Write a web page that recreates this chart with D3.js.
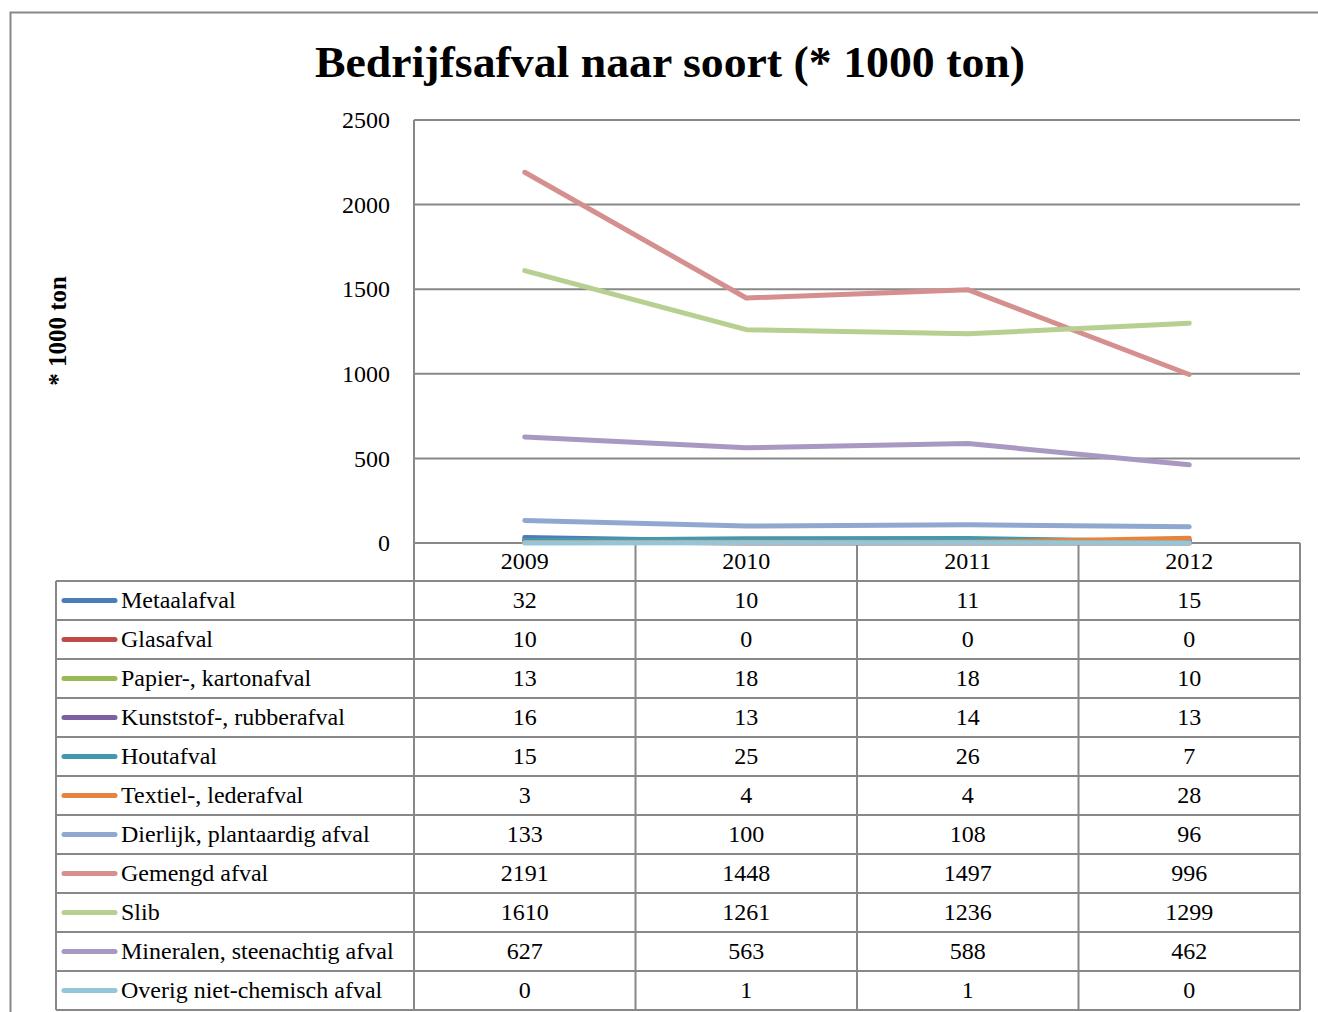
<!DOCTYPE html>
<meta charset="utf-8">
<html>
<head>
<style>
  body { margin: 0; background: #fff; }
  svg text { font-family: "Liberation Serif", "DejaVu Serif", serif; fill: #000; }
</style>
</head>
<body>
<svg width="1318" height="1012" id="chart"></svg>
<script src="https://d3js.org/d3.v7.min.js"></script>
<script>
var years = ["2009", "2010", "2011", "2012"];
var seriesNames = [
  "Metaalafval", "Glasafval", "Papier-, kartonafval", "Kunststof-, rubberafval",
  "Houtafval", "Textiel-, lederafval", "Dierlijk, plantaardig afval", "Gemengd afval",
  "Slib", "Mineralen, steenachtig afval", "Overig niet-chemisch afval"
];
var metaal = [32, 10, 11, 15];
var glas = [10, 0, 0, 0];
var papier = [13, 18, 18, 10];
var kunststof = [16, 13, 14, 13];
var hout = [15, 25, 26, 7];
var textiel = [3, 4, 4, 28];
var dierlijk = [133, 100, 108, 96];
var gemengd = [2191, 1448, 1497, 996];
var slib = [1610, 1261, 1236, 1299];
var mineralen = [627, 563, 588, 462];
var overig = [0, 1, 1, 0];
var yTicks = [0, 500, 1000, 1500, 2000, 2500];

var colors = ["#4a7ebb", "#be4b48", "#98b954", "#7d60a0", "#4198af", "#e6843e",
              "#8fa8d0", "#d48f8e", "#b7cf90", "#a898c2", "#93c6d9"];
var series = [metaal, glas, papier, kunststof, hout, textiel, dierlijk, gemengd, slib, mineralen, overig]
  .map(function (v, i) { return { name: seriesNames[i], values: v, color: colors[i] }; });

var svg = d3.select("#chart");
var gridColor = "#888";

// outer chart border
svg.append("rect")
  .attr("x", 10.5).attr("y", 12.5)
  .attr("width", 1400).attr("height", 1100)
  .attr("fill", "none").attr("stroke", gridColor).attr("stroke-width", 2);

// title
svg.append("text")
  .attr("x", 670).attr("y", 77)
  .attr("text-anchor", "middle")
  .attr("textLength", 710).attr("lengthAdjust", "spacingAndGlyphs")
  .style("font-size", "45px").style("font-weight", "bold")
  .text("Bedrijfsafval naar soort (* 1000 ton)");

// y axis label
svg.append("text")
  .attr("transform", "translate(66,331) rotate(-90)")
  .attr("text-anchor", "middle")
  .style("font-size", "25px").style("font-weight", "bold")
  .text("* 1000 ton");

var plotLeft = 414, plotRight = 1300, plotTop = 120, plotBottom = 543;
var x = d3.scaleBand().domain(years).range([plotLeft, plotRight]);
var y = d3.scaleLinear().domain([0, 2500]).range([plotBottom, plotTop]);

// gridlines
svg.append("g").selectAll("line")
  .data(yTicks.filter(function (d) { return d > 0; }))
  .enter().append("line")
  .attr("x1", plotLeft).attr("x2", plotRight)
  .attr("y1", function (d) { return y(d); }).attr("y2", function (d) { return y(d); })
  .attr("stroke", gridColor).attr("stroke-width", 2);

// y axis
var yAxis = svg.append("g")
  .attr("transform", "translate(" + plotLeft + ",0)")
  .call(d3.axisLeft(y).tickValues(yTicks).tickFormat(d3.format("d")).tickSize(0).tickPadding(24));
yAxis.select(".domain").remove();
yAxis.selectAll("text").style("font-size", "24px")
  .style("font-family", "'Liberation Serif', serif");

// data table
var rowH = 39;
var tableTop = plotBottom, headerH = 38;
var legendLeft = 56;
var tableBottom = tableTop + headerH + rowH * series.length;
var tg = svg.append("g");

// horizontal table lines
tg.append("line").attr("x1", plotLeft).attr("x2", plotRight)
  .attr("y1", tableTop).attr("y2", tableTop).attr("stroke", gridColor).attr("stroke-width", 2);
tg.selectAll(".hrow")
  .data(d3.range(series.length + 1))
  .enter().append("line")
  .attr("x1", legendLeft).attr("x2", plotRight)
  .attr("y1", function (i) { return tableTop + headerH + i * rowH; })
  .attr("y2", function (i) { return tableTop + headerH + i * rowH; })
  .attr("stroke", gridColor).attr("stroke-width", 2);

// vertical table lines
tg.append("line").attr("x1", plotLeft).attr("x2", plotLeft)
  .attr("y1", plotTop).attr("y2", tableBottom).attr("stroke", gridColor).attr("stroke-width", 2);
tg.append("line").attr("x1", legendLeft).attr("x2", legendLeft)
  .attr("y1", tableTop + headerH).attr("y2", tableBottom).attr("stroke", gridColor).attr("stroke-width", 2);
tg.selectAll(".vcol")
  .data(years)
  .enter().append("line")
  .attr("x1", function (d) { return x(d) + x.bandwidth(); })
  .attr("x2", function (d) { return x(d) + x.bandwidth(); })
  .attr("y1", tableTop).attr("y2", tableBottom)
  .attr("stroke", gridColor).attr("stroke-width", 2);

// year headers
tg.selectAll(".year")
  .data(years)
  .enter().append("text")
  .attr("x", function (d) { return x(d) + x.bandwidth() / 2; })
  .attr("y", tableTop + 26)
  .attr("text-anchor", "middle")
  .style("font-size", "24px")
  .text(function (d) { return d; });

// rows
var rows = tg.selectAll(".row")
  .data(series)
  .enter().append("g")
  .attr("transform", function (d, i) { return "translate(0," + (tableTop + headerH + i * rowH) + ")"; });

rows.append("line")
  .attr("x1", 64).attr("x2", 115)
  .attr("y1", rowH / 2).attr("y2", rowH / 2)
  .attr("stroke", function (d) { return d.color; })
  .attr("stroke-width", 5).attr("stroke-linecap", "round");

rows.append("text")
  .attr("x", 121).attr("y", rowH / 2 + 7)
  .style("font-size", "24px")
  .text(function (d) { return d.name; });

rows.selectAll(".val")
  .data(function (d) { return d.values; })
  .enter().append("text")
  .attr("x", function (v, j) { return x(years[j]) + x.bandwidth() / 2; })
  .attr("y", rowH / 2 + 7)
  .attr("text-anchor", "middle")
  .style("font-size", "24px")
  .text(function (v) { return v; });

// lines
var line = d3.line()
  .x(function (v, j) { return x(years[j]) + x.bandwidth() / 2; })
  .y(function (v) { return y(v); });

svg.append("g").selectAll("path")
  .data(series)
  .enter().append("path")
  .attr("d", function (d) { return line(d.values); })
  .attr("fill", "none")
  .attr("stroke", function (d) { return d.color; })
  .attr("stroke-width", 5)
  .attr("stroke-linecap", "round")
  .attr("stroke-linejoin", "round");
</script>
</body>
</html>
